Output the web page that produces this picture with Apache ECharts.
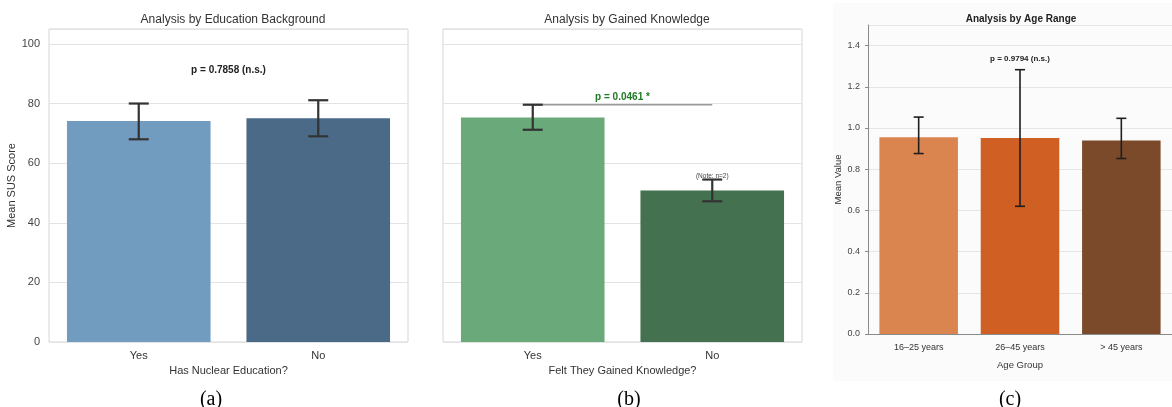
<!DOCTYPE html>
<html><head><meta charset="utf-8">
<script src="https://cdn.jsdelivr.net/npm/echarts@6/dist/echarts.min.js"></script>
<style>html,body{margin:0;padding:0;background:#fff}#c{width:1172px;height:407px}</style>
</head><body><div id="c"></div>
<script>
// ---- data ----
const eduCats = ['Yes', 'No'];
const eduMean = [74.1, 75.1];
const eduLow = [68.0, 69.0];
const eduHigh = [80.0, 81.1];
const eduP = 'p = 0.7858 (n.s.)';

const knowCats = ['Yes', 'No'];
const knowMean = [75.3, 50.8];
const knowLow = [71.2, 47.2];
const knowHigh = [79.6, 54.5];
const knowP = 'p = 0.0461 *';
const knowNote = '(Note: n=2)';

const ageCats = ['16\u201325 years', '26\u201345 years', '> 45 years'];
const ageMean = [0.955, 0.951, 0.939];
const ageLow = [0.876, 0.620, 0.852];
const ageHigh = [1.053, 1.283, 1.047];
const ageP = 'p = 0.9794 (n.s.)';

const eduColors = ['#719cc0', '#4a6a88'];
const knowColors = ['#6aa979', '#44714f'];
const ageColors = ['#da844f', '#cf5f22', '#7b4a2b'];

const FONT = '"Liberation Sans", Arial, sans-serif';

function bars(idx, vals, colors, width) {
  return {
    type: 'bar', xAxisIndex: idx, yAxisIndex: idx, barWidth: width,
    data: vals.map((v, i) => ({ value: v, itemStyle: { color: colors[i] } })),
    silent: true, z: 2
  };
}
function errs(idx, lo, hi, capHalf, lw, color) {
  return {
    type: 'custom', xAxisIndex: idx, yAxisIndex: idx, z: 5, silent: true,
    data: lo.map((l, i) => [i, l, hi[i]]),
    renderItem: function (params, api) {
      const a = api.coord([api.value(0), api.value(1)]);
      const b = api.coord([api.value(0), api.value(2)]);
      const st = { stroke: color, lineWidth: lw };
      return { type: 'group', children: [
        { type: 'line', shape: { x1: a[0], y1: a[1], x2: b[0], y2: b[1] }, style: st },
        { type: 'line', shape: { x1: a[0] - capHalf, y1: a[1], x2: a[0] + capHalf, y2: a[1] }, style: st },
        { type: 'line', shape: { x1: b[0] - capHalf, y1: b[1], x2: b[0] + capHalf, y2: b[1] }, style: st }
      ]};
    }
  };
}
// text centred between category indices i0 and i1 at value yv
function textAt(idx, i0, i1, yv, txt, style) {
  return {
    type: 'custom', xAxisIndex: idx, yAxisIndex: idx, z: 6, silent: true,
    data: [[i0, i1, yv]],
    renderItem: function (params, api) {
      const p0 = api.coord([api.value(0), api.value(2)]);
      const p1 = api.coord([api.value(1), api.value(2)]);
      return { type: 'text', x: (p0[0] + p1[0]) / 2, y: p0[1],
        style: Object.assign({ text: txt, align: 'center', verticalAlign: 'middle', fontFamily: FONT }, style) };
    }
  };
}

const chart = echarts.init(document.getElementById('c'), null, { renderer: 'canvas' });

const yMaxAB = 105;
const yMaxC = 1.5;
const SERIF = '"Liberation Serif", "Times New Roman", serif';

const option = {
  animation: false,
  textStyle: { fontFamily: FONT },
  title: [
    { text: 'Analysis by Education Background', left: 228, top: 9, textAlign: 'center',
      textStyle: { fontSize: 12, fontWeight: 'normal', color: '#333', fontFamily: FONT } },
    { text: 'Analysis by Gained Knowledge', left: 622, top: 9, textAlign: 'center',
      textStyle: { fontSize: 12, fontWeight: 'normal', color: '#333', fontFamily: FONT } },
    { text: 'Analysis by Age Range', left: 1016, top: 9, textAlign: 'center',
      textStyle: { fontSize: 10, fontWeight: 'bold', color: '#222', fontFamily: FONT } },
    { text: '(a)', left: 206, top: 385, textAlign: 'center',
      textStyle: { fontSize: 20, fontWeight: 'normal', color: '#000', fontFamily: SERIF } },
    { text: '(b)', left: 624, top: 385, textAlign: 'center',
      textStyle: { fontSize: 20, fontWeight: 'normal', color: '#000', fontFamily: SERIF } },
    { text: '(c)', left: 1005, top: 385, textAlign: 'center',
      textStyle: { fontSize: 20, fontWeight: 'normal', color: '#000', fontFamily: SERIF } }
  ],
  graphic: [
    { type: 'rect', left: 833, top: 3, shape: { width: 339, height: 378 }, style: { fill: '#fbfbfb' }, z: -10, silent: true }
  ],
  grid: [
    { left: 49, top: 29, width: 359, height: 313, show: true, borderColor: '#d6d6d6', borderWidth: 1, backgroundColor: 'transparent' },
    { left: 443, top: 29, width: 359, height: 313, show: true, borderColor: '#d6d6d6', borderWidth: 1, backgroundColor: 'transparent' },
    { left: 868, top: 25, width: 310, height: 309, show: false }
  ],
  xAxis: [
    { type: 'category', gridIndex: 0, data: eduCats, name: 'Has Nuclear Education?', nameLocation: 'middle', nameGap: 21,
      nameTextStyle: { fontSize: 11, color: '#333' },
      axisLine: { show: false }, axisTick: { show: false },
      axisLabel: { fontSize: 11, color: '#333', margin: 8 } },
    { type: 'category', gridIndex: 1, data: knowCats, name: 'Felt They Gained Knowledge?', nameLocation: 'middle', nameGap: 21,
      nameTextStyle: { fontSize: 11, color: '#333' },
      axisLine: { show: false }, axisTick: { show: false },
      axisLabel: { fontSize: 11, color: '#333', margin: 8 } },
    { type: 'category', gridIndex: 2, data: ageCats, name: 'Age Group', nameLocation: 'middle', nameGap: 26,
      nameTextStyle: { fontSize: 9.5, color: '#333' },
      axisLine: { show: true, lineStyle: { color: '#8a8a8a', width: 1 } }, axisTick: { show: false },
      axisLabel: { fontSize: 9, color: '#333', margin: 9 } }
  ],
  yAxis: [
    { type: 'value', gridIndex: 0, min: 0, max: yMaxAB, interval: 20, name: 'Mean SUS Score', nameLocation: 'middle', nameGap: 31,
      nameTextStyle: { fontSize: 11, color: '#333' },
      axisLine: { show: false }, axisTick: { show: false },
      axisLabel: { fontSize: 11, color: '#444', margin: 9, showMaxLabel: false },
      splitLine: { lineStyle: { color: '#e3e3e3', width: 1 } } },
    { type: 'value', gridIndex: 1, min: 0, max: yMaxAB, interval: 20,
      axisLine: { show: false }, axisTick: { show: false },
      axisLabel: { show: false },
      splitLine: { lineStyle: { color: '#e3e3e3', width: 1 } } },
    { type: 'value', gridIndex: 2, min: 0, max: yMaxC, interval: 0.2, name: 'Mean Value', nameLocation: 'middle', nameGap: 24,
      nameTextStyle: { fontSize: 9.5, color: '#333' },
      axisLine: { show: true, lineStyle: { color: '#8a8a8a', width: 1 } },
      axisTick: { show: true, length: 3, lineStyle: { color: '#8a8a8a' } },
      axisLabel: { fontSize: 9, color: '#444', margin: 8, showMaxLabel: false, formatter: v => v.toFixed(1) },
      splitLine: { lineStyle: { color: '#e6e6e6', width: 1 } } }
  ],
  series: [
    bars(0, eduMean, eduColors, '80%'),
    errs(0, eduLow, eduHigh, 10, 2.2, '#333'),
    textAt(0, 0, 1, Math.max(...eduHigh) + 10, eduP, { fontSize: 10, fontWeight: 'bold', fill: '#222' }),

    bars(1, knowMean, knowColors, '80%'),
    // significance line between the two categories at the top of the highest error bar
    {
      type: 'custom', xAxisIndex: 1, yAxisIndex: 1, z: 4, silent: true,
      data: [[0, 1, Math.max(...knowHigh)]],
      renderItem: function (params, api) {
        const a = api.coord([api.value(0), api.value(2)]);
        const b = api.coord([api.value(1), api.value(2)]);
        return { type: 'line', shape: { x1: a[0], y1: a[1], x2: b[0], y2: b[1] }, style: { stroke: '#9a9a9a', lineWidth: 1.5 } };
      }
    },
    errs(1, knowLow, knowHigh, 10, 2.2, '#333'),
    textAt(1, 0, 1, Math.max(...knowHigh) + 2.4, knowP, { fontSize: 10, fontWeight: 'bold', fill: '#1e7a24' }),
    textAt(1, 1, 1, knowHigh[1] + 1.1, knowNote, { fontSize: 6.5, fill: '#444' }),

    bars(2, ageMean, ageColors, '77.5%'),
    errs(2, ageLow, ageHigh, 5, 1.6, '#1e1e1e'),
    textAt(2, 1, 1, Math.max(...ageHigh) + 0.052, ageP, { fontSize: 8, fontWeight: 'bold', fill: '#222' })
  ]
};
chart.setOption(option);
</script>
</body></html>
